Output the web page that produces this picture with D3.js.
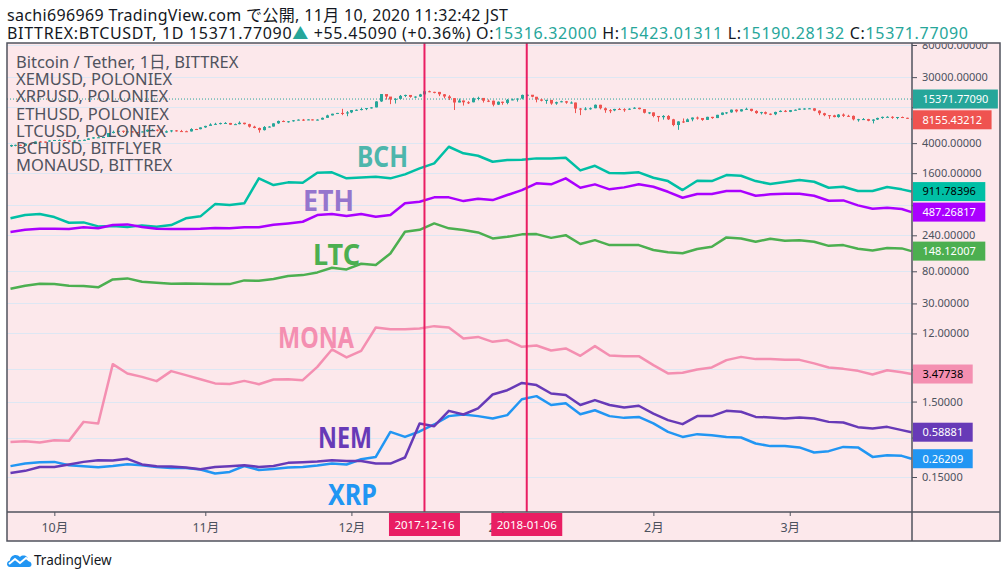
<!DOCTYPE html>
<html>
<head>
<meta charset="utf-8">
<script src="https://d3js.org/d3.v7.min.js"></script>
<style>
body{margin:0;background:#fff;}
text{font-family:"Noto Sans","Noto Sans CJK JP",sans-serif;}
</style>
</head>
<body>
<script>
// ---- data ----
var yTicks=[80000,30000,12000,4000,1600,600,240,80,30,12,4,1.5,0.5,0.15]
var hiddenTicks=[12000,600,4,0.5]   // covered by the value boxes
var monthTicks=['2017-10-01','2017-11-01','2017-12-01','2018-01-01','2018-02-01','2018-03-01']
var monthNames=['10月','11月','12月','2018','2月','3月']
var markedDays=['2017-12-16','2018-01-06']

// BTC daily candles from 2017-09-22: [close, high, low], open = previous close
var btcFirstOpen=3630
var btcSep=[[3778,3820,3560],[3796,3820,3630],[3682,3820,3660],[3926,3980,3680],[3892,3975,3860],[4208,4220,3900],[4195,4270,4130],[4193,4200,4030],[4336,4370,4180]]
var btcOct=[[4403,4410,4290],[4409,4470,4380],[4317,4440,4260],[4229,4350,4190],[4328,4360,4160],[4370,4420,4320],[4426,4460,4320],[4611,4630,4420],[4772,4800,4560],[4781,4920,4720],[4826,4880,4730],[5446,5450,4820],[5648,5860,5380],[5831,5840,5580],[5678,5860,5450],[5725,5790,5580],[5605,5780,5520],[5590,5600,5140],[5708,5740,5560],[6011,6070,5630],[6031,6190,5850],[5930,6080,5720],[5527,6040,5460],[5750,5890,5460],[5904,5960,5570],[5780,5970,5690],[5753,5990,5690],[5720,5850,5640],[6154,6310,5700],[6130,6190,6030],[6468,6470,6100]]
var btcNov=[[6767,6800,6380],[7078,7330,6950],[7208,7440,7000],[7379,7480,7070],[7407,7600,7340],[7022,7420,7000],[7144,7280,7050],[7459,7780,7100],[7143,7450,7060],[6618,7230,6440],[6357,6800,6290],[5950,6430,5510],[6559,6730,5880],[6635,6720,6450],[7315,7330,6630],[7871,7970,7200],[7708,8000,7600],[7790,7860,7480],[8036,8100,7700],[8200,8270,7990],[8072,8370,7880],[8254,8300,8070],[8039,8270,8000],[8205,8300,8000],[8660,8750,8200],[9330,9520,8660],[9818,9820,9320],[10058,10070,9720],[9888,11400,9400],[10234,10640,9100]]
var btcDec=[[10975,11000,10000],[11075,11200,10700],[11323,11800,10870],[11657,11660,10950],[11916,12000,11500],[14291,14370,11920],[17899,17900,14070],[16570,17300,15100],[15178,16310,13150],[15455,15800,13400],[16937,17400,15200],[17415,17570,16300],[16408,17300,16000],[16564,16700,15900],[17706,18000,16400],[19498,19600,17500],[19140,19870,18900],[19115,19200,18300],[17776,19100,16800],[16624,17900,15700],[15802,17300,14900],[13831,15800,11000],[14699,15600,13900],[13926,14700,12600],[13925,14400,13200],[15753,16100,13900],[15899,16500,14800],[14607,15500,13800],[14606,15200,14000],[12952,14700,12300],[14156,14300,12800]]
var btcJan=[[13657,14200,12900],[14982,15400,13100],[15201,15600,14800],[15599,15600,14200],[17429,17600,15200],[17527,17700,16700],[16477,17400,16200],[15170,16400,13900],[14595,15500,14300],[14973,15000,13300],[13405,14900,12900],[13980,14200,12900],[14360,14600,13900],[13772,14500,13300],[13819,14300,13400],[11490,13800,10000],[11188,11700,9400],[11474,12000,10900],[11608,11900,11100],[12899,13000,11600],[11600,12900,11200],[10932,11900,10100],[10868,11300,10000],[11359,11400,10600],[11259,11700,11100],[11171,11600,10400],[11441,11600,11000],[11787,12000,11400],[11296,11800,11200],[10107,11300,9900],[10221,10300,9700]]
var btcFeb=[[9170,10200,8800],[8830,9100,7700],[9174,9400,8200],[8277,9400,8100],[6955,8400,6700],[7754,7800,6000],[7621,8500,7400],[8265,8500,7700],[8736,8750,7800],[8621,9000,8200],[8129,8600,7900],[8926,8950,8100],[8598,8930,8400],[9494,9500,8600],[10166,10200,9400],[10233,10300,9700],[11112,11150,10100],[10551,11200,10200],[11225,11300,10500],[11403,11800,11100],[10690,11400,10500],[10005,10900,9800],[10301,10400,9600],[9813,10500,9600],[9664,9900,9400],[10366,10450,9400],[10725,10900,10300],[10397,11000,10300]]
var btcMar=[[10951,11000,10300],[11086,11200,10800],[11489,11500,11000],[11512,11600,11100],[11573,11700,11400],[10779,11600,10600],[9965,10900,9400],[9395,10100,9100],[9337,9400,8400],[8866,9500,8800],[9578,9700,8700],[9205,9900,8900],[9194,9500,8900],[8269,9300,8000],[8300,8400,7700],[8338,8600,8100],[7916,8400,7800],[8223,8300,7300],[8630,8700,8100],[8913,9000,8400],[8929,9100,8800],[8728,9100,8400],[8879,8900,8300],[8669,9000,8600],[8495,8700,8400],[8155,8500,7850]]

// overlay symbols, sampled every 3rd day
var altDates=['2017-09-22','2017-09-25','2017-09-28','2017-10-01','2017-10-04','2017-10-07','2017-10-10','2017-10-13','2017-10-16','2017-10-19','2017-10-22','2017-10-25','2017-10-28','2017-10-31','2017-11-03','2017-11-06','2017-11-09','2017-11-12','2017-11-15','2017-11-18','2017-11-21','2017-11-24','2017-11-27','2017-11-30','2017-12-03','2017-12-06','2017-12-09','2017-12-12','2017-12-15','2017-12-18','2017-12-21','2017-12-24','2017-12-27','2017-12-30','2018-01-02','2018-01-05','2018-01-08','2018-01-11','2018-01-14','2018-01-17','2018-01-20','2018-01-23','2018-01-26','2018-01-29','2018-02-01','2018-02-04','2018-02-07','2018-02-10','2018-02-13','2018-02-16','2018-02-19','2018-02-22','2018-02-25','2018-02-28','2018-03-03','2018-03-06','2018-03-09','2018-03-12','2018-03-15','2018-03-18','2018-03-21','2018-03-24','2018-03-26']
var bchVals=[403,445,459,419,352,356,315,318,309,325,311,328,403,428,622,604,637,1366,1112,1208,1194,1619,1640,1366,1406,1432,1366,1543,1853,2158,3581,2929,2723,2266,2388,2410,2512,2512,2558,1742,2004,1605,1592,1640,1390,1256,955,1268,1256,1510,1479,1256,1148,1219,1297,1230,1024,1056,926,926,1047,976,911.78]
var ethVals=[265,284,293,293,290,306,297,328,335,309,293,290,290,293,299,297,306,306,331,345,363,445,459,432,459,423,445,637,668,764,764,682,732,703,820,955,1172,1137,1366,1024,1137,976,1037,1137,1056,906,755,845,845,926,926,802,838,853,853,802,689,697,598,539,556,535,487.27]
var ltcVals=[46.9,51.4,54.6,54.1,51.4,50.9,49.0,62.5,64.4,58.1,56.4,54.6,55.3,54.6,54.1,54.1,60.6,59.8,63.1,69.1,71.2,77.3,89.1,84.8,100.7,96.7,138,267,284,345,297,282,262,218,229,247,249,222,241,184,207,178,178,178,153,143,139,158,169,225,218,197,216,203,207,197,174,178,159,151,163,161,148.12]
var monaVals=[0.438,0.448,0.430,0.461,0.452,0.807,0.769,4.70,3.54,3.19,2.80,3.80,3.36,2.97,2.61,2.57,2.82,2.55,2.94,2.97,2.88,4.33,7.36,5.77,7.06,14.4,13.6,13.6,14.0,15.0,14.4,10.3,10.8,9.29,9.79,7.98,8.32,7.14,7.60,6.06,8.15,6.13,6.00,6.00,4.56,3.54,3.61,4.00,4.25,5.31,5.87,5.48,5.48,5.36,5.36,4.81,4.25,4.07,3.83,3.43,3.91,3.68,3.477]
var nemVals=[0.170,0.181,0.204,0.204,0.220,0.238,0.251,0.248,0.261,0.220,0.209,0.207,0.200,0.190,0.204,0.209,0.215,0.204,0.210,0.231,0.236,0.241,0.251,0.245,0.245,0.226,0.226,0.272,0.769,0.708,1.13,1.01,1.22,1.86,2.12,2.65,2.48,1.92,1.83,1.35,1.57,1.35,1.25,1.32,1.04,0.851,0.753,0.962,0.962,1.13,1.10,0.940,0.924,0.896,0.924,0.896,0.807,0.792,0.687,0.660,0.693,0.627,0.5888]
var xrpVals=[0.209,0.226,0.236,0.238,0.215,0.209,0.202,0.210,0.222,0.215,0.204,0.198,0.198,0.189,0.167,0.175,0.210,0.186,0.192,0.200,0.204,0.213,0.226,0.220,0.258,0.277,0.594,0.510,0.602,0.745,0.962,1.01,0.962,0.896,0.991,1.61,1.77,1.35,1.42,1.02,1.15,0.962,0.912,0.940,0.769,0.594,0.510,0.555,0.538,0.510,0.501,0.417,0.385,0.385,0.370,0.317,0.330,0.376,0.370,0.277,0.292,0.286,0.262]

var legendLines=['Bitcoin / Tether, 1日, BITTREX','XEMUSD, POLONIEX','XRPUSD, POLONIEX','ETHUSD, POLONIEX','LTCUSD, POLONIEX','BCHUSD, BITFLYER','MONAUSD, BITTREX']
var lastValues=[
  {v:15371.77090,t:'15371.77090',fill:'#26a69a',ink:'#fff'},
  {v:8155.43212,t:'8155.43212',fill:'#ef5350',ink:'#fff'},
  {v:911.78396,t:'911.78396',fill:'#00bfa5',ink:'#000'},
  {v:487.26817,t:'487.26817',fill:'#aa00ff',ink:'#fff'},
  {v:148.12007,t:'148.12007',fill:'#4caf50',ink:'#fff'},
  {v:3.47738,t:'3.47738',fill:'#f48fb1',ink:'#000'},
  {v:0.58881,t:'0.58881',fill:'#673ab7',ink:'#fff'},
  {v:0.26209,t:'0.26209',fill:'#2196f3',ink:'#fff'}]

// ---- layout ----
var parse=d3.utcParse('%Y-%m-%d')
var L=7, R=912, T=43, B=512, FR=1000, FB=541
var svg=d3.select('body').append('svg').attr('width',1006).attr('height',578)

var x=d3.scaleUtc().domain([parse('2017-09-22'),parse('2018-03-26')]).range([10.5,911.5])
var y=d3.scaleLog().domain([80000,0.15]).range([45,477])

svg.append('rect').attr('x',L).attr('y',T).attr('width',FR-L).attr('height',FB-T).attr('fill','#fce8eb')

svg.append('clipPath').attr('id','plot').append('rect').attr('x',L).attr('y',T).attr('width',R-L).attr('height',B-T)
svg.append('clipPath').attr('id','scale').append('rect').attr('x',R).attr('y',T+1).attr('width',FR-R).attr('height',B-T)
var plot=svg.append('g').attr('clip-path','url(#plot)')

// grid
plot.selectAll('.grid').data(yTicks).enter().append('line')
  .attr('x1',L).attr('x2',R).attr('y1',d=>Math.round(y(d))+0.5).attr('y2',d=>Math.round(y(d))+0.5)
  .attr('stroke','#dde7f3').attr('stroke-width',1)

// last price dotted line
plot.append('line').attr('x1',L).attr('x2',R).attr('y1',y(lastValues[0].v)).attr('y2',y(lastValues[0].v))
  .attr('stroke','#26a69a').attr('stroke-dasharray','1,2')

// candles
var btc=[].concat(btcSep,btcOct,btcNov,btcDec,btcJan,btcFeb,btcMar)
var start=parse('2017-09-22')
var candles=btc.map(function(d,i){
  return {date:d3.utcDay.offset(start,i),o:i==0?btcFirstOpen:btc[i-1][0],c:d[0],h:d[1],l:d[2]}
})
var cg=plot.append('g')
cg.selectAll('line').data(candles).enter().append('line')
  .attr('x1',d=>Math.round(x(d.date))+0.5).attr('x2',d=>Math.round(x(d.date))+0.5)
  .attr('y1',d=>y(d.h)).attr('y2',d=>y(d.l))
  .attr('stroke',d=>d.c>=d.o?'#26a69a':'#ef5350')
cg.selectAll('rect').data(candles).enter().append('rect')
  .attr('x',d=>Math.round(x(d.date))-1).attr('width',3)
  .attr('y',d=>y(Math.max(d.o,d.c)))
  .attr('height',d=>Math.max(1,Math.abs(y(d.o)-y(d.c))))
  .attr('fill',d=>d.c>=d.o?'#26a69a':'#ef5350')

// overlay lines
var series=[
  {vals:bchVals,color:'#00bfa5'},
  {vals:ethVals,color:'#aa00ff'},
  {vals:ltcVals,color:'#4caf50'},
  {vals:monaVals,color:'#f48fb1'},
  {vals:xrpVals,color:'#2196f3'},
  {vals:nemVals,color:'#673ab7'}]
var line=d3.line().x(d=>x(d.date)).y(d=>y(d.v))
series.forEach(function(s){
  var pts=s.vals.map((v,i)=>({date:parse(altDates[i]),v:v}))
  plot.append('path').datum(pts).attr('d',line).attr('fill','none')
    .attr('stroke',s.color).attr('stroke-width',2.5).attr('stroke-linejoin','round')
})

// legend
var leg=plot.append('g')
leg.selectAll('text').data(legendLines).enter().append('text')
  .attr('x',16).attr('y',(d,i)=>68+i*17.2).attr('font-size',16.5).attr('fill','#50535e').text(d=>d)

// hand written labels
var tags=[
  {t:'BCH',x:357,y:167,w:51,c:'#4db6ac'},
  {t:'ETH',x:303,y:211,w:51,c:'#9575cd'},
  {t:'LTC',x:313,y:265,w:47,c:'#4caf50'},
  {t:'MONA',x:278,y:348,w:76,c:'#f48fb1'},
  {t:'NEM',x:318,y:448,w:54,c:'#673ab7'},
  {t:'XRP',x:328,y:505,w:49,c:'#2196f3'}]
plot.selectAll('.tag').data(tags).enter().append('text')
  .attr('x',d=>d.x).attr('y',d=>d.y).attr('font-size',29).attr('font-weight','bold')
  .attr('textLength',d=>d.w).attr('lengthAdjust','spacingAndGlyphs')
  .attr('fill',d=>d.c).text(d=>d.t)

// marked days
var marks=markedDays.map(parse)
svg.selectAll('.vline').data(marks).enter().append('line')
  .attr('x1',d=>x(d)).attr('x2',d=>x(d)).attr('y1',T).attr('y2',B)
  .attr('stroke','#e91e63').attr('stroke-width',2)

// right axis (clipped to the price scale area, like the original)
var ay=svg.append('g').attr('clip-path','url(#scale)').append('g').attr('transform','translate('+R+',0)')
  .call(d3.axisRight(y).tickValues(yTicks).tickSize(5).tickPadding(5)
    .tickFormat(d=>hiddenTicks.indexOf(d)>=0?'':d.toFixed(5)))
ay.select('.domain').remove()
ay.selectAll('line').attr('stroke','#50535e')
ay.selectAll('text').attr('font-size',11).attr('fill','#4c525e').attr('font-family','"Noto Sans",sans-serif')

// last value boxes
var lb=svg.append('g').selectAll('g').data(lastValues).enter().append('g')
  .attr('transform',d=>'translate('+(R+1)+','+y(d.v)+')')
lb.append('rect').attr('y',-9.5).attr('height',19).attr('fill',d=>d.fill)
lb.append('text').attr('x',9.5).attr('dy','0.35em').attr('font-size',11).attr('fill',d=>d.ink).text(d=>d.t)
lb.each(function(){
  var g=d3.select(this), w=g.select('text').node().getComputedTextLength()
  g.select('rect').attr('width',w+19)
})

// bottom axis
var ax=svg.append('g').attr('transform','translate(0,'+B+')')
  .call(d3.axisBottom(x).tickValues(monthTicks.map(parse)).tickFormat((d,i)=>monthNames[i]).tickSize(4).tickPadding(7.5))
ax.select('.domain').remove()
ax.selectAll('line').attr('stroke','#50535e')
ax.selectAll('text').attr('font-size',12.5).attr('fill','#4c525e').attr('font-family','"Noto Sans","Noto Sans CJK JP",sans-serif')

var db=svg.selectAll('.dbox').data(marks).enter().append('g').attr('transform',d=>'translate('+x(d)+','+(B+1)+')')
db.append('rect').attr('x',-35.5).attr('width',71).attr('height',23).attr('fill','#e91e63')
db.append('text').attr('y',16).attr('text-anchor','middle').attr('font-size',11.5).attr('fill','#fff').text(d=>d3.utcFormat('%Y-%m-%d')(d))

// frame
svg.append('rect').attr('x',L).attr('y',T).attr('width',FR-L).attr('height',FB-T).attr('fill','none').attr('stroke','#50535e').attr('stroke-width',1.5)
svg.append('line').attr('x1',R).attr('x2',R).attr('y1',T).attr('y2',FB).attr('stroke','#50535e').attr('stroke-width',1.5)
svg.append('line').attr('x1',L).attr('x2',FR).attr('y1',B).attr('y2',B).attr('stroke','#50535e').attr('stroke-width',1.5)

// header
svg.append('text').attr('x',7).attr('y',21).attr('font-size',16).attr('fill','#131722')
  .attr('textLength',501).text('sachi696969 TradingView.com で公開, 11月 10, 2020 11:32:42 JST')
var h2=svg.append('text').attr('x',7).attr('y',38.5).attr('font-size',16).attr('fill','#131722').attr('textLength',961)
var parts=[['BITTREX:BTCUSDT, 1D 15371.77090','#131722'],['▲','#26a69a'],[' +55.45090 (+0.36%) O:','#131722'],['15316.32000','#26a69a'],[' H:','#131722'],['15423.01311','#26a69a'],[' L:','#131722'],['15190.28132','#26a69a'],[' C:','#131722'],['15371.77090','#26a69a']]
parts.forEach(p=>h2.append('tspan').attr('fill',p[1]).text(p[0]))

// footer logo
var logo=svg.append('g').attr('transform','translate(6,552)')
logo.append('path').attr('d','M4,15 C0,15 0,9 4,8.5 C4,3 11,1 14,5 C17,2 23,4 22,9 C26,9 27,15 23,15 Z').attr('fill','#2196f3')
logo.append('path').attr('d','M3,12 L9,7 L14,11 L20,6 L24,9').attr('fill','none').attr('stroke','#fff').attr('stroke-width',2)
svg.append('text').attr('x',34).attr('y',565).attr('font-size',13.5).attr('fill','#131722').text('TradingView')
</script>
</body>
</html>
